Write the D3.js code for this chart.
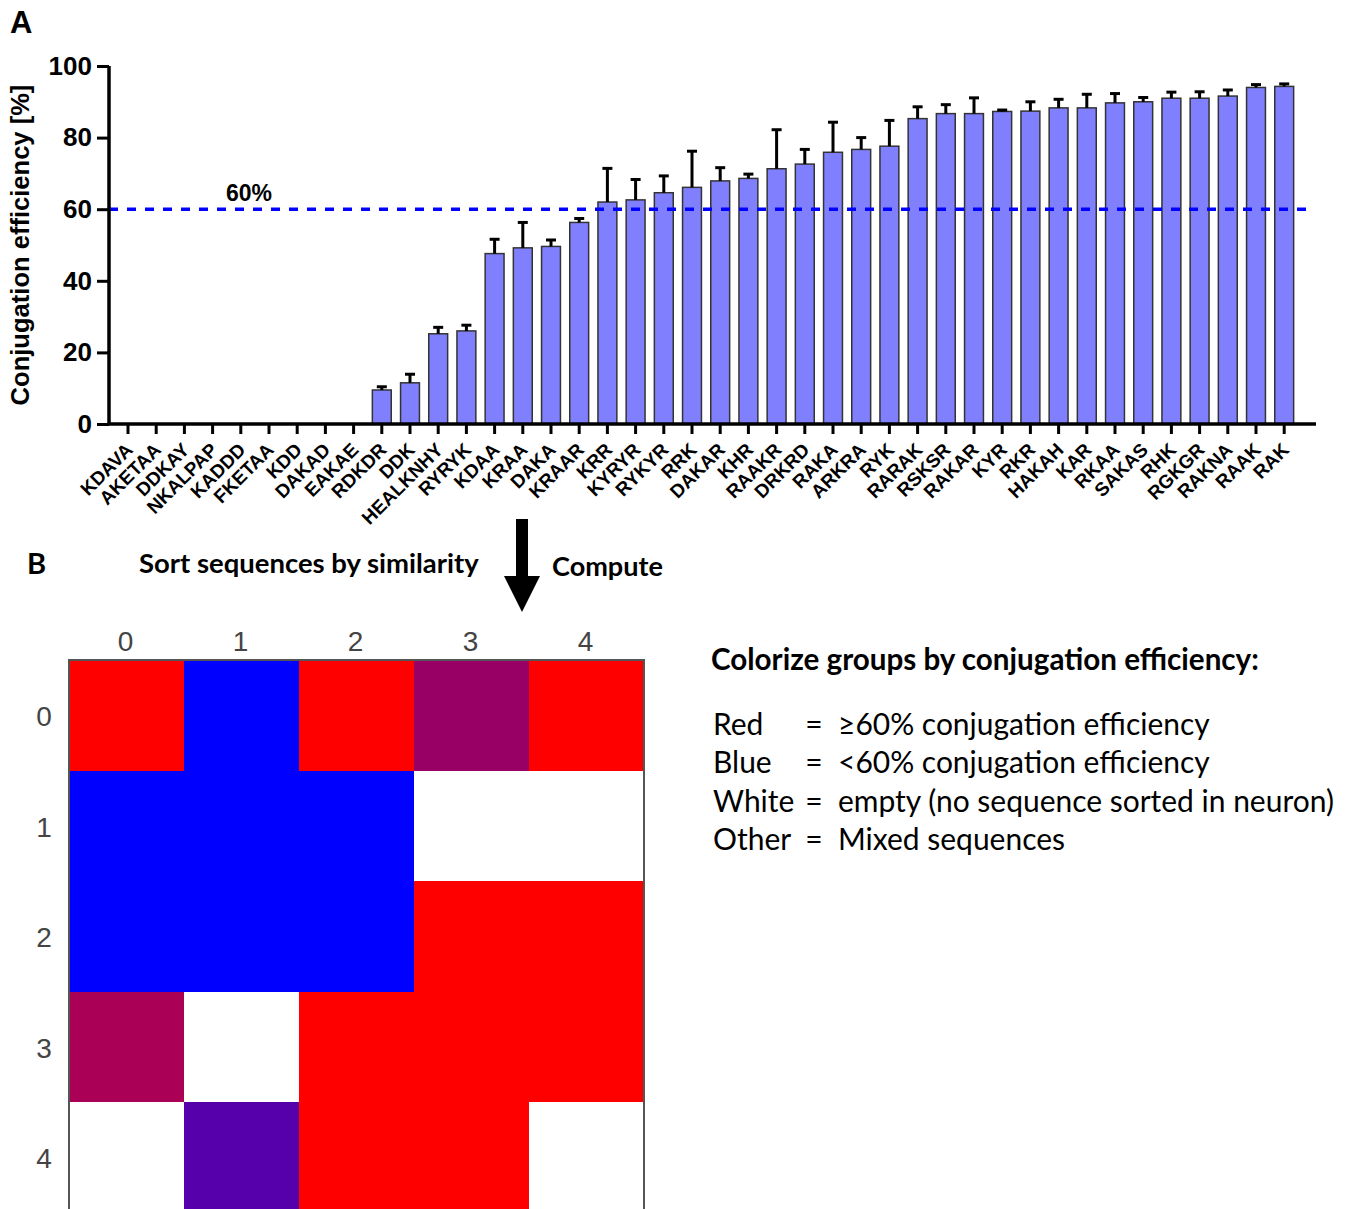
<!DOCTYPE html>
<html>
<head>
<meta charset="utf-8">
<script src="https://cdn.jsdelivr.net/npm/d3@7"></script>
<style>
  body { margin: 0; background: #fff; }
  svg { display: block; }
</style>
</head>
<body>
<script>
'use strict';

// panel A data: peptide tags, mean conjugation efficiency [%] and SD (upper error bar)
const peptides = ["KDAVA", "AKETAA", "DDKAY", "NKALPAP", "KADDD", "FKETAA", "KDD", "DAKAD", "EAKAE",
  "RDKDR", "DDK", "HEALKNHY", "RYRYK", "KDAA", "KRAA", "DAKA", "KRAAR", "KRR", "KYRYR", "RYKYR",
  "RRK", "DAKAR", "KHR", "RAAKR", "DRKRD", "RAKA", "ARKRA", "RYK", "RARAK", "RSKSR", "RAKAR",
  "KYR", "RKR", "HAKAH", "KAR", "RKAA", "SAKAS", "RHK", "RGKGR", "RAKNA", "RAAK", "RAK"];
const efficiency = [0, 0, 0, 0, 0, 0, 0, 0, 0,
  9.5, 11.5, 25.2, 26.0, 47.6, 49.2, 49.6, 56.3, 62.0, 62.6, 64.6,
  66.1, 67.9, 68.6, 71.3, 72.6, 75.9, 76.7, 77.6, 85.3, 86.7, 86.7,
  87.3, 87.4, 88.3, 88.3, 89.7, 90.0, 91.0, 91.0, 91.6, 94.0, 94.3];
const sd = [0, 0, 0, 0, 0, 0, 0, 0, 0,
  0.9, 2.4, 1.8, 1.6, 4.0, 7.1, 1.8, 1.1, 9.4, 5.7, 4.7,
  10.1, 3.7, 1.2, 10.9, 4.1, 8.4, 3.3, 7.2, 3.3, 2.5, 4.4,
  0.4, 2.6, 2.4, 3.8, 2.6, 1.2, 1.7, 1.8, 1.7, 0.8, 0.7];
const yTicks = [0, 20, 40, 60, 80, 100];
const threshold = 60;

// panel B data: fraction of >=60% sequences per neuron (null = empty neuron)
const gridRows = [0, 1, 2, 3, 4];
const gridCols = [0, 1, 2, 3, 4];
const redFraction = [
  [1, 0, 1, 0.6, 1],
  [0, 0, 0, null, null],
  [0, 0, 0, 1, 1],
  [0.667, null, 1, 1, 1],
  [null, 0.333, 1, 1, null]
];
const legendNames = ["Red", "Blue", "White", "Other"];
const legendTexts = ["\u226560% conjugation efficiency", "<60% conjugation efficiency",
  "empty (no sequence sorted in neuron)", "Mixed sequences"];

const W = 1351, H = 1209;
const arial = "'Liberation Sans', Arial, sans-serif";
const calibri = "Lato, 'Open Sans', sans-serif";

const svg = d3.select('body')
  .append('svg')
  .attr('width', W)
  .attr('height', H);

// scale text so that it spans the given width
function fitWidth(sel, width) {
  const w = sel.node().getComputedTextLength();
  const fs = parseFloat(sel.style('font-size'));
  sel.style('font-size', (fs * width / w) + 'px');
  return sel;
}

drawBarChart();
drawSomGrid();
drawLegend();

function drawBarChart() {
  const g = svg.append('g');

  const x = d3.scaleBand()
    .domain(peptides)
    .range([113.9, 1298.3])
    .paddingInner(0.33)
    .paddingOuter(0.165);

  const y = d3.scaleLinear()
    .domain([0, 100])
    .range([424, 66]);

  // bars
  g.selectAll('.bar')
    .data(peptides)
    .enter()
    .append('rect')
    .attr('class', 'bar')
    .attr('x', (d) => x(d))
    .attr('width', x.bandwidth())
    .attr('y', (d, i) => y(efficiency[i]))
    .attr('height', (d, i) => y(0) - y(efficiency[i]))
    .attr('fill', '#8080ff')
    .attr('stroke', '#333')
    .attr('stroke-width', 1.5);

  // upper error bars
  const err = g.selectAll('.err')
    .data(peptides.filter((d, i) => sd[i] > 0))
    .enter()
    .append('g')
    .attr('class', 'err');
  err.append('line')
    .attr('x1', (d) => x(d) + x.bandwidth() / 2)
    .attr('x2', (d) => x(d) + x.bandwidth() / 2)
    .attr('y1', (d) => y(efficiency[peptides.indexOf(d)]))
    .attr('y2', (d) => y(efficiency[peptides.indexOf(d)] + sd[peptides.indexOf(d)]))
    .attr('stroke', '#000')
    .attr('stroke-width', 3);
  err.append('line')
    .attr('x1', (d) => x(d) + x.bandwidth() / 2 - 5)
    .attr('x2', (d) => x(d) + x.bandwidth() / 2 + 5)
    .attr('y1', (d) => y(efficiency[peptides.indexOf(d)] + sd[peptides.indexOf(d)]))
    .attr('y2', (d) => y(efficiency[peptides.indexOf(d)] + sd[peptides.indexOf(d)]))
    .attr('stroke', '#000')
    .attr('stroke-width', 3);

  // 60% threshold
  g.append('line')
    .attr('x1', 109)
    .attr('x2', 1310)
    .attr('y1', y(threshold))
    .attr('y2', y(threshold))
    .attr('stroke', '#0000ff')
    .attr('stroke-width', 3.5)
    .attr('stroke-dasharray', '9,9');
  g.append('text')
    .attr('x', 226)
    .attr('y', 201)
    .style('font-family', arial)
    .style('font-weight', 'bold')
    .style('font-size', '23px')
    .text(threshold + '%');

  // y axis
  const yAxis = g.append('g')
    .attr('transform', 'translate(109,0)')
    .call(d3.axisLeft(y).tickValues(yTicks).tickSize(12).tickPadding(5));
  yAxis.select('.domain').attr('stroke-width', 3.5).attr('d', 'M0,66V424');
  yAxis.selectAll('.tick line').attr('stroke-width', 3);
  yAxis.selectAll('.tick text')
    .style('font-family', arial)
    .style('font-weight', 'bold')
    .style('font-size', '26px')
    .attr('fill', '#000');

  // x axis
  const xAxis = g.append('g')
    .attr('transform', 'translate(0,424)')
    .call(d3.axisBottom(x).tickSize(10).tickSizeOuter(0));
  xAxis.select('.domain').attr('stroke-width', 3.5).attr('d', 'M109,0H1316');
  xAxis.selectAll('.tick line').attr('stroke-width', 3);
  xAxis.selectAll('.tick text')
    .style('font-family', arial)
    .style('font-weight', 'bold')
    .style('font-size', '19px')
    .attr('fill', '#000')
    .attr('text-anchor', 'end')
    .attr('dy', 0)
    .attr('y', 0)
    .attr('transform', 'translate(6,27) rotate(-45)');

  // y title
  const yt = g.append('text')
    .attr('transform', 'translate(29,245) rotate(-90)')
    .attr('text-anchor', 'middle')
    .style('font-family', arial)
    .style('font-weight', 'bold')
    .style('font-size', '25px')
    .text('Conjugation efficiency [%]');
  fitWidth(yt, 321);

  g.append('text')
    .attr('x', 10)
    .attr('y', 33)
    .style('font-family', arial)
    .style('font-weight', 'bold')
    .style('font-size', '31px')
    .text('A');
}

function drawSomGrid() {
  const g = svg.append('g');

  const x = d3.scaleBand().domain(gridCols).range([69, 644]);
  const y = d3.scaleBand().domain(gridRows).range([660, 1212.5]);
  const color = d3.interpolateRgb('#0000ff', '#ff0000');

  const cells = [];
  gridRows.forEach((r) => gridCols.forEach((c) => cells.push({ r: r, c: c, f: redFraction[r][c] })));

  g.selectAll('.cell')
    .data(cells)
    .enter()
    .append('rect')
    .attr('class', 'cell')
    .attr('x', (d) => x(d.c))
    .attr('y', (d) => y(d.r))
    .attr('width', x.bandwidth())
    .attr('height', y.bandwidth())
    .attr('fill', (d) => d.f === null ? '#ffffff' : color(d.f))
    .attr('shape-rendering', 'crispEdges');

  g.append('rect')
    .attr('x', 69)
    .attr('y', 660)
    .attr('width', 575)
    .attr('height', 552.5)
    .attr('fill', 'none')
    .attr('stroke', '#555')
    .attr('stroke-width', 2);

  g.selectAll('.colLabel')
    .data(gridCols)
    .enter()
    .append('text')
    .attr('x', (d) => x(d) + x.bandwidth() / 2 - 1)
    .attr('y', 651)
    .attr('text-anchor', 'middle')
    .style('font-family', arial)
    .style('font-size', '28px')
    .attr('fill', '#444')
    .text((d) => d);

  g.selectAll('.rowLabel')
    .data(gridRows)
    .enter()
    .append('text')
    .attr('x', 44)
    .attr('y', (d) => y(d) + y.bandwidth() / 2 + 11)
    .attr('text-anchor', 'middle')
    .style('font-family', arial)
    .style('font-size', '28px')
    .attr('fill', '#444')
    .text((d) => d);

  // panel B heading, arrow
  g.append('text')
    .attr('x', 27)
    .attr('y', 574)
    .style('font-family', calibri)
    .style('font-weight', 'bold')
    .style('font-size', '29px')
    .text('B');
  const s = g.append('text')
    .attr('x', 139)
    .attr('y', 573)
    .style('font-family', calibri)
    .style('font-weight', 'bold')
    .style('font-size', '23px')
    .text('Sort sequences by similarity');
  fitWidth(s, 340);
  const c = g.append('text')
    .attr('x', 552)
    .attr('y', 576)
    .style('font-family', calibri)
    .style('font-weight', 'bold')
    .style('font-size', '23px')
    .text('Compute');
  fitWidth(c, 111);

  g.append('rect')
    .attr('x', 516)
    .attr('y', 519)
    .attr('width', 12)
    .attr('height', 60)
    .attr('fill', '#000');
  g.append('path')
    .attr('d', 'M504,576L540,576L522,612Z')
    .attr('fill', '#000');
}

function drawLegend() {
  const g = svg.append('g');
  const t = g.append('text')
    .attr('x', 711)
    .attr('y', 670)
    .style('font-family', calibri)
    .style('font-weight', 'bold')
    .style('font-size', '25px')
    .text('Colorize groups by conjugation efficiency:');
  fitWidth(t, 548);

  const rowY = d3.scalePoint().domain(legendNames).range([735, 850]);

  const probe = g.append('text')
    .style('font-family', calibri)
    .style('font-size', '26px')
    .text(legendTexts[2]);
  fitWidth(probe, 496);
  const fs = probe.style('font-size');
  probe.remove();

  const rows = g.selectAll('.leg')
    .data(legendNames)
    .enter()
    .append('g')
    .attr('class', 'leg')
    .attr('transform', (d) => 'translate(0,' + rowY(d) + ')');
  rows.append('text')
    .attr('x', 713)
    .style('font-family', calibri)
    .style('font-size', fs)
    .text((d) => d);
  rows.append('text')
    .attr('x', 814)
    .attr('text-anchor', 'middle')
    .style('font-family', calibri)
    .style('font-size', fs)
    .text('=');
  rows.append('text')
    .attr('x', 838)
    .style('font-family', calibri)
    .style('font-size', fs)
    .text((d, i) => legendTexts[i]);
}
</script>
</body>
</html>
